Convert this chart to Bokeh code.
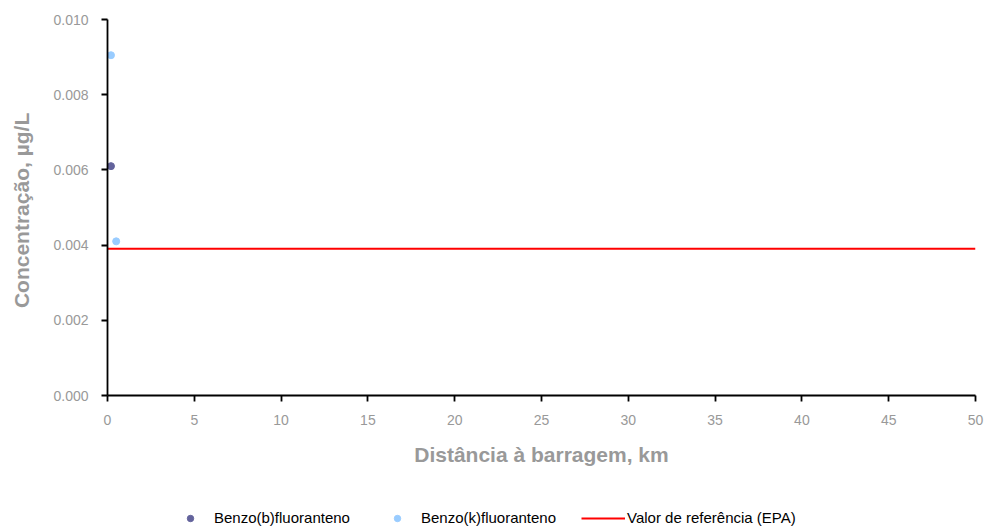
from bokeh.plotting import figure
from bokeh.layouts import column
from bokeh.models import Range1d, FixedTicker, Legend, LegendItem, NumeralTickFormatter
from bokeh.embed import file_html
from bokeh.resources import INLINE

# Data
b_x = [0.2]
b_y = [0.0061]
k_x = [0.2, 0.5]
k_y = [0.00905, 0.0041]
ref_x = [0, 50]
ref_y = [0.0039, 0.0039]
x_ticks = [0, 5, 10, 15, 20, 25, 30, 35, 40, 45, 50]
y_ticks = [0.000, 0.002, 0.004, 0.006, 0.008, 0.010]
series_labels = ["Benzo(b)fluoranteno", "Benzo(k)fluoranteno", "Valor de referência (EPA)"]

FONT = "Liberation Sans"
GRAY = "#999999"
C_B = "#63639c"
C_K = "#99ccff"
C_REF = "#ff0000"

p = figure(width=984, height=474, output_backend="svg", toolbar_location=None,
           x_range=Range1d(0, 50), y_range=Range1d(0, 0.010),
           min_border_left=107, min_border_top=19, min_border_right=9, min_border_bottom=79)
p.outline_line_color = None
p.xgrid.visible = False
p.ygrid.visible = False

p.line(ref_x, ref_y, line_color=C_REF, line_width=2)
p.scatter(b_x, b_y, size=7, fill_color=C_B, line_color=C_B, marker="circle")
p.scatter(k_x, k_y, size=7, fill_color=C_K, line_color=C_K, marker="circle")

for ax in (p.xaxis[0], p.yaxis[0]):
    ax.axis_line_color = "black"
    ax.axis_line_width = 1.8
    ax.major_tick_line_color = "black"
    ax.major_tick_line_width = 1.8
    ax.major_tick_out = 6
    ax.major_tick_in = 0
    ax.minor_tick_line_color = None
    ax.major_label_text_font = FONT
    ax.major_label_text_font_size = "14px"
    ax.major_label_text_color = GRAY
    ax.axis_label_text_font = FONT
    ax.axis_label_text_font_size = "21px"
    ax.axis_label_text_font_style = "bold"
    ax.axis_label_text_color = GRAY

p.xaxis[0].ticker = FixedTicker(ticks=x_ticks)
p.yaxis[0].ticker = FixedTicker(ticks=y_ticks)
p.yaxis[0].formatter = NumeralTickFormatter(format="0.000")
p.xaxis[0].axis_label = "Distância à barragem, km"
p.yaxis[0].axis_label = "Concentração,  µg/L"
p.xaxis[0].major_label_standoff = 13
p.xaxis[0].axis_label_standoff = 15
p.yaxis[0].major_label_standoff = 13
p.yaxis[0].axis_label_standoff = 17

# Legend strip below the chart (same series, view range excludes the data)
lg = figure(width=984, height=52, output_backend="svg", toolbar_location=None,
            x_range=Range1d(0, 50), y_range=Range1d(1, 2),
            x_axis_type=None, y_axis_type=None,
            min_border=0)
lg.outline_line_color = None
g_b = lg.scatter(b_x, b_y, size=7, fill_color=C_B, line_color=C_B, marker="circle")
g_k = lg.scatter(k_x, k_y, size=7, fill_color=C_K, line_color=C_K, marker="circle")
g_r = lg.line(ref_x, ref_y, line_color=C_REF, line_width=2)

legend = Legend(items=[
    LegendItem(label=series_labels[0], renderers=[g_b]),
    LegendItem(label=series_labels[1], renderers=[g_k]),
    LegendItem(label=series_labels[2], renderers=[g_r]),
], orientation="horizontal", location=(61, 0))
legend.border_line_color = None
legend.background_fill_alpha = 0
legend.padding = 0
legend.margin = 0
legend.glyph_width = 44
legend.glyph_height = 16
legend.label_standoff = 2
legend.spacing = 25
legend.label_text_font = FONT
legend.label_text_font_size = "15px"
legend.label_text_color = "black"
lg.add_layout(legend, "center")

layout = column(p, lg, spacing=0)
open("out.html", "w").write(file_html(layout, INLINE))
